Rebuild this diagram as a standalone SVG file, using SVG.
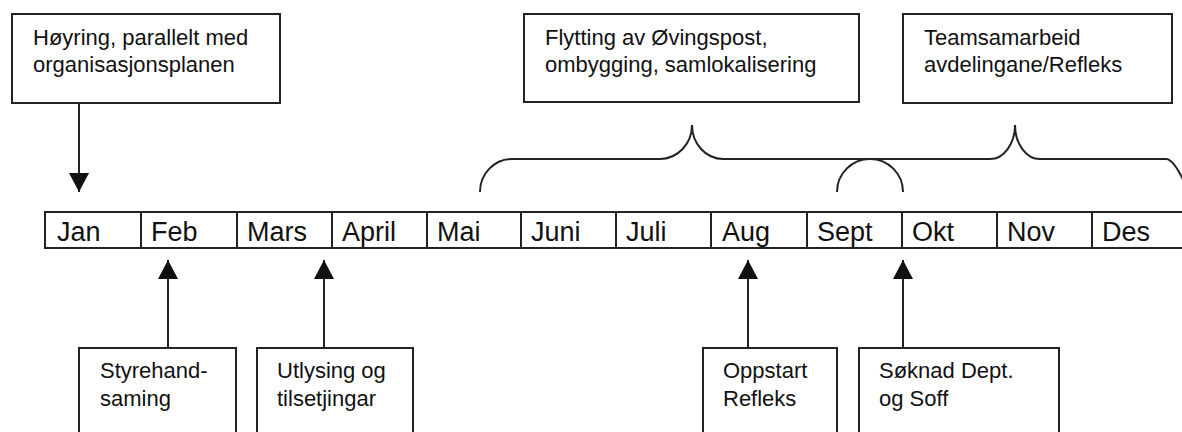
<svg xmlns="http://www.w3.org/2000/svg" width="1182" height="432" viewBox="0 0 1182 432">
<style>
.box{fill:#fff;stroke:#222;stroke-width:2}
.ln{fill:none;stroke:#222;stroke-width:2}
.t{font-family:"Liberation Sans",Arial,sans-serif;font-size:22px;fill:#111}
.m{font-family:"Liberation Sans",Arial,sans-serif;font-size:27px;fill:#111}
</style>
<defs>
<marker id="ah" markerUnits="userSpaceOnUse" markerWidth="20" markerHeight="20" viewBox="0 0 20 20" refX="19" refY="10" orient="auto">
<path d="M0,0 L19,10 L0,20 Z" fill="#111"/>
</marker>
</defs>
<rect width="1182" height="432" fill="#fff"/>
<g id="timeline">
<rect class="box" x="45" y="212" width="1150" height="36"/>
<path class="ln" d="M141,212V248M237,212V248M332,212V248M427,212V248M521,212V248M616,212V248M711,212V248M807,212V248M902,212V248M997,212V248M1092,212V248"/>
<text class="m" x="57" y="241">Jan</text>
<text class="m" x="151" y="241">Feb</text>
<text class="m" x="247" y="241">Mars</text>
<text class="m" x="342" y="241">April</text>
<text class="m" x="437" y="241">Mai</text>
<text class="m" x="531" y="241">Juni</text>
<text class="m" x="626" y="241">Juli</text>
<text class="m" x="722" y="241">Aug</text>
<text class="m" x="817" y="241">Sept</text>
<text class="m" x="912" y="241">Okt</text>
<text class="m" x="1007" y="241">Nov</text>
<text class="m" x="1102" y="241">Des</text>
</g>
<g id="n-hoyring">
<rect class="box" x="12" y="14" width="268" height="89"/>
<text class="t" x="33" y="45">Høyring, parallelt med</text>
<text class="t" x="33" y="72">organisasjonsplanen</text>
</g>
<g id="n-flytting">
<rect class="box" x="524" y="14" width="335" height="88"/>
<text class="t" x="545" y="45">Flytting av Øvingspost,</text>
<text class="t" x="545" y="72">ombygging, samlokalisering</text>
</g>
<g id="n-teams">
<rect class="box" x="903" y="14" width="269" height="89"/>
<text class="t" x="924" y="45">Teamsamarbeid</text>
<text class="t" x="924" y="72">avdelingane/Refleks</text>
</g>
<g id="n-styre">
<rect class="box" x="79" y="348" width="157" height="100"/>
<text class="t" x="100" y="378">Styrehand-</text>
<text class="t" x="100" y="406">saming</text>
</g>
<g id="n-utlysing">
<rect class="box" x="257" y="348" width="156" height="100"/>
<text class="t" x="277" y="378">Utlysing og</text>
<text class="t" x="277" y="406">tilsetjingar</text>
</g>
<g id="n-oppstart">
<rect class="box" x="703" y="348" width="134" height="100"/>
<text class="t" x="723" y="378">Oppstart</text>
<text class="t" x="723" y="406">Refleks</text>
</g>
<g id="n-soknad">
<rect class="box" x="859" y="348" width="200" height="100"/>
<text class="t" x="879" y="378">Søknad Dept.</text>
<text class="t" x="879" y="406">og Soff</text>
</g>
<g id="connectors">
<line class="ln" x1="79" y1="103" x2="79" y2="192" marker-end="url(#ah)"/>
<line class="ln" x1="168" y1="348" x2="168" y2="260" marker-end="url(#ah)"/>
<line class="ln" x1="324" y1="348" x2="324" y2="260" marker-end="url(#ah)"/>
<line class="ln" x1="748" y1="348" x2="748" y2="260" marker-end="url(#ah)"/>
<line class="ln" x1="903" y1="348" x2="903" y2="260" marker-end="url(#ah)"/>
<path class="ln" d="M480,192 A32,33 0 0 1 512,159 L660,159 A32,34 0 0 0 692,125 A31,34 0 0 0 723,159 L990,159 A25,34 0 0 0 1015,125 A25,34 0 0 0 1040,159 L1166,159 Q1174,159 1186,186"/>
<path class="ln" d="M837,192 A33,33 0 0 1 903,192"/>
</g>
</svg>
